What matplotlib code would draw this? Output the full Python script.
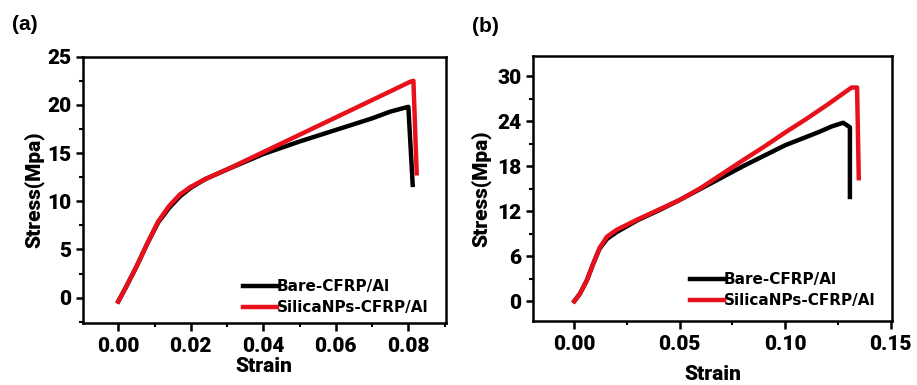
import matplotlib
matplotlib.use("Agg")
import matplotlib.pyplot as plt
from matplotlib.ticker import MultipleLocator

# ---------------- data ----------------
series_labels = ["Bare-CFRP/Al", "SilicaNPs-CFRP/Al"]

a_bare_strain = [0.0, 0.002, 0.005, 0.008, 0.011, 0.014, 0.017, 0.020, 0.024, 0.030, 0.040,
                 0.050, 0.060, 0.070, 0.075, 0.080, 0.0812]
a_bare_stress = [-0.4, 1.0, 3.2, 5.6, 7.8, 9.3, 10.5, 11.4, 12.3, 13.3, 14.9,
                 16.2, 17.4, 18.6, 19.3, 19.8, 11.7]
a_silica_strain = [0.0, 0.002, 0.005, 0.008, 0.011, 0.014, 0.017, 0.020, 0.024, 0.030, 0.040,
                   0.050, 0.060, 0.070, 0.075, 0.0805, 0.0814, 0.0823]
a_silica_stress = [-0.4, 1.0, 3.2, 5.6, 7.9, 9.5, 10.7, 11.5, 12.3, 13.3, 15.1,
                   16.9, 18.7, 20.5, 21.4, 22.4, 22.5, 12.9]

b_bare_strain = [0.0, 0.0027, 0.006, 0.009, 0.012, 0.0155, 0.020, 0.025, 0.030, 0.040, 0.050,
                 0.060, 0.070, 0.080, 0.090, 0.100, 0.110, 0.1163, 0.122, 0.1275, 0.1307, 0.1307]
b_bare_stress = [0.0, 1.0, 2.8, 5.0, 7.0, 8.3, 9.2, 10.0, 10.8, 12.1, 13.5,
                 15.0, 16.5, 18.0, 19.4, 20.8, 21.9, 22.6, 23.3, 23.8, 23.2, 13.9]
b_silica_strain = [0.0, 0.0027, 0.006, 0.009, 0.012, 0.0155, 0.020, 0.025, 0.030, 0.040, 0.050,
                   0.060, 0.070, 0.080, 0.090, 0.100, 0.110, 0.120, 0.125, 0.1315, 0.1341, 0.1349]
b_silica_stress = [0.0, 1.0, 2.8, 5.0, 7.1, 8.6, 9.5, 10.2, 10.9, 12.2, 13.5,
                   15.1, 16.95, 18.8, 20.6, 22.5, 24.3, 26.2, 27.2, 28.5, 28.5, 16.4]

a_xticks = [0.00, 0.02, 0.04, 0.06, 0.08]
a_yticks = [0, 5, 10, 15, 20, 25]
b_xticks = [0.00, 0.05, 0.10, 0.15]
b_yticks = [0, 6, 12, 18, 24, 30]

colors = ["#000000", "#e8101a"]

# ---------------- figure ----------------
W, H = 917, 385
fig = plt.figure(figsize=(W / 100, H / 100), dpi=100)

tickfont = dict(family="Roboto", weight=900, size=15)
labfont = dict(family="Roboto", weight=900, size=15)


def px_axes(l, t, r, b):
    return fig.add_axes([l / W, 1 - b / H, (r - l) / W, (b - t) / H])


def style(ax, xticks, yticks, xminor, yminor, xlim, ylim, xfmt, xlabpad, ylabpad):
    ax.set_xlim(*xlim)
    ax.set_ylim(*ylim)
    ax.set_xticks(xticks)
    ax.set_yticks(yticks)
    ax.set_xticklabels([xfmt.format(v) for v in xticks], fontdict=tickfont)
    ax.set_yticklabels([str(v) for v in yticks], fontdict=tickfont)
    ax.xaxis.set_minor_locator(MultipleLocator(xminor))
    ax.yaxis.set_minor_locator(MultipleLocator(yminor))
    for s in ax.spines.values():
        s.set_linewidth(1.8)
    ax.tick_params(which="major", direction="out", length=5, width=1.8)
    ax.tick_params(axis="x", which="major", pad=4, length=6)
    ax.tick_params(axis="y", which="major", pad=3)
    ax.tick_params(which="minor", direction="out", length=3, width=1.5)
    ax.set_xlabel("Strain", fontdict=labfont, labelpad=xlabpad)
    ax.set_ylabel("Stress(Mpa)", fontdict=labfont, labelpad=ylabpad)


legfont = dict(family="DejaVu Sans", weight="bold", size=11)

# panel (a)
ax1 = px_axes(82.7, 56.7, 445.7, 322.7)
ax1.plot(a_bare_strain, a_bare_stress, color=colors[0], lw=3.2, label=series_labels[0],
         solid_joinstyle="round")
ax1.plot(a_silica_strain, a_silica_stress, color=colors[1], lw=3.2, label=series_labels[1],
         solid_joinstyle="round")
style(ax1, a_xticks, a_yticks, 0.01, 2.5, (-0.0098, 0.0903), (-2.6, 25.0), "{:.2f}", 1, 2)
ax1.legend(loc="upper left", bbox_to_anchor=(243 / W, 1 - 279 / H), bbox_transform=fig.transFigure,
           frameon=False, prop=legfont, borderpad=0, borderaxespad=0, handletextpad=0,
           handlelength=2.2, labelspacing=0.42)

# panel (b)
ax2 = px_axes(532.7, 56.0, 892.3, 320.7)
ax2.plot(b_bare_strain, b_bare_stress, color=colors[0], lw=3.2, label=series_labels[0],
         solid_joinstyle="round")
ax2.plot(b_silica_strain, b_silica_stress, color=colors[1], lw=3.2, label=series_labels[1],
         solid_joinstyle="round")
style(ax2, b_xticks, b_yticks, 0.025, 3, (-0.0197, 0.1508), (-2.6, 32.7), "{:.2f}", 8, 4)
ax2.legend(loc="upper left", bbox_to_anchor=(690 / W, 1 - 272 / H), bbox_transform=fig.transFigure,
           frameon=False, prop=legfont, borderpad=0, borderaxespad=0, handletextpad=0,
           handlelength=2.2, labelspacing=0.42)

fig.text(12 / W, 1 - 25 / H, "(a)", family="Liberation Sans", weight="bold", size=15,
         ha="left", va="center")
fig.text(472 / W, 1 - 26 / H, "(b)", family="Liberation Sans", weight="bold", size=15,
         ha="left", va="center")

fig.savefig("out.png", dpi=100)
